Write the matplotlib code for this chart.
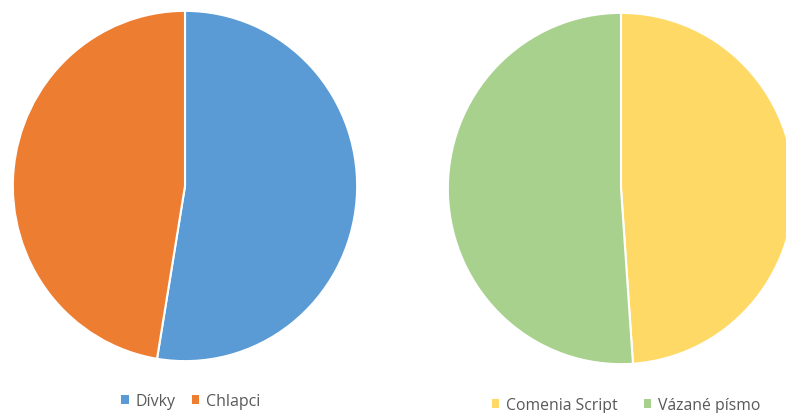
import matplotlib
matplotlib.use("Agg")
import matplotlib.pyplot as plt
from matplotlib.patches import Patch

left_labels = ["Dívky", "Chlapci"]
left_values = [52.6, 47.4]
left_colors = ["#5B9BD5", "#ED7D31"]

right_labels = ["Comenia Script", "Vázané písmo"]
right_values = [48.9, 51.1]
right_colors = ["#FFD966", "#A9D18E"]

W, H = 786, 414
fig = plt.figure(figsize=(W / 100, H / 100), dpi=100)
fig.patch.set_facecolor("white")
plt.rcParams['font.family'] = ['Open Sans', 'DejaVu Sans']

def axes_px(x0, y0, x1, y1):
    return fig.add_axes([x0 / W, (H - y1) / H, (x1 - x0) / W, (y1 - y0) / H])

def draw_pie(ax, values, colors):
    ax.pie(values, colors=colors, startangle=90, counterclock=False,
           wedgeprops=dict(edgecolor="white", linewidth=1.5), radius=1.0)
    ax.set_xlim(-1.005, 1.005)
    ax.set_ylim(-1.005, 1.005)
    ax.set_aspect("auto")
    ax.axis("off")

ax1 = axes_px(12, 11, 358, 363)
draw_pie(ax1, left_values, left_colors)
ax2 = axes_px(447, 13, 795, 366)
draw_pie(ax2, right_values, right_colors)

def legend(labels, colors, cx, cy, gap, fs):
    handles = [Patch(facecolor=c, edgecolor="none") for c in colors]
    fig.legend(handles, labels, loc="center", bbox_to_anchor=(cx / W, 1 - cy / H),
               ncol=len(labels), frameon=False, fontsize=fs, handlelength=0.45,
               handleheight=0.45, handletextpad=0.45, columnspacing=gap,
               labelcolor="#595959")

legend(left_labels, left_colors, 191, 402, 1.0, 11.5)
legend(right_labels, right_colors, 626, 406, 1.7, 11.3)

fig.savefig("out.png", dpi=100)
